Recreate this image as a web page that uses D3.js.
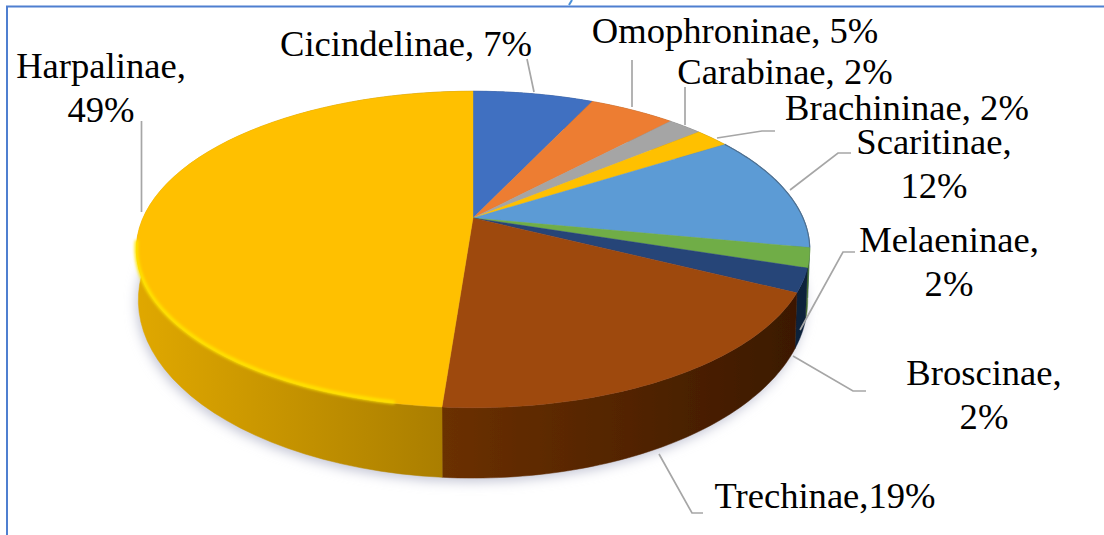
<!DOCTYPE html>
<html>
<head>
<meta charset="utf-8">
<script src="https://cdn.jsdelivr.net/npm/d3@7"></script>
<style>
    html, body { margin: 0; padding: 0; background: #fff; overflow: hidden; }
    text { font-family: "Liberation Serif", serif; font-size: 36.6px; fill: #000; }
</style>
</head>
<body>
<div id="chart"></div>
<script>
// Chart values
const categories = ['Cicindelinae', 'Omophroninae', 'Carabinae', 'Brachininae', 'Scaritinae', 'Melaeninae', 'Broscinae', 'Trechinae', 'Harpalinae'];
const shares = [7, 5, 2, 2, 12, 2, 2.4, 18.8, 48.8];
const percentLabels = ['7%', '5%', '2%', '2%', '12%', '2%', '2%', '19%', '49%'];
const topColors = ['#3f6fc1', '#ed7d31', '#a5a5a5', '#ffc000', '#5b9bd5', '#70ad47', '#264478', '#9e480e', '#ffc000'];
const wallLeft = ['#2a4a80', '#9e5320', '#6e6e6e', '#aa8000', '#3d6890', '#4a7330', '#1a2f52', '#6b3000', '#e0a800'];
const wallRight = ['#2a4a80', '#9e5320', '#6e6e6e', '#aa8000', '#3d6890', '#4a7330', '#10203a', '#3a1800', '#aa7e00'];

// Label placement: text lines and leader lines
const labelLayout = [
    { lines: ['Cicindelinae, 7%'], x: 406, y: 56, leader: [[527, 59], [534, 92]] },
    { lines: ['Omophroninae, 5%'], x: 735, y: 43, leader: [[632, 60], [632, 107]] },
    { lines: ['Carabinae, 2%'], x: 785, y: 84, leader: [[685, 87], [685, 125]] },
    { lines: ['Brachininae, 2%'], x: 907, y: 120, leader: [[717, 138], [762, 131], [775, 131]] },
    { lines: ['Scaritinae,', '12%'], x: 934, y: 154, leader: [[790, 190], [838, 153], [851, 153]] },
    { lines: ['Melaeninae,', '2%'], x: 949, y: 252, leader: [[800, 330], [843, 252], [855, 252]] },
    { lines: ['Broscinae,', '2%'], x: 984, y: 385, leader: [[793, 356], [853, 391], [866, 391]] },
    { lines: ['Trechinae,19%'], x: 825, y: 508, leader: [[659, 454], [692, 513], [703, 513]] },
    { lines: ['Harpalinae,', '49%'], x: 101, y: 78, leader: [[141.5, 121], [141.5, 212]] }
];

const width = 1104;
const height = 535;

// Tilted disc: top and bottom faces are the same circle seen in perspective
const tilt = 0.199;
const topFace = { cx: 473, cy: 218, rx: 330, ry: 152 };
const bottomFace = { cx: 473, cy: 264.6, rx: 328, ry: 171 };

const project = (face, angle) => {
    const w = 1 + tilt * Math.cos(angle);
    return [
        face.cx + face.rx * Math.sin(angle) / w,
        face.cy - face.ry * Math.cos(angle) / w
    ];
};

const edge = (face, start, end) => d3.range(0, 61).map(i => project(face, start + (end - start) * i / 60));

const svg = d3.select('#chart')
    .append('svg')
    .attr('width', width)
    .attr('height', height);

const defs = svg.append('defs');

const blur = defs.append('filter')
    .attr('id', 'shadow-blur')
    .attr('x', '-10%').attr('y', '-10%')
    .attr('width', '120%').attr('height', '125%');
blur.append('feGaussianBlur').attr('stdDeviation', 6);

const soft = defs.append('filter')
    .attr('id', 'soft')
    .attr('x', '-5%').attr('y', '-5%')
    .attr('width', '110%').attr('height', '110%');
soft.append('feGaussianBlur').attr('stdDeviation', 1.6);

const slightBlur = defs.append('filter').attr('id', 'slight');
slightBlur.append('feGaussianBlur').attr('stdDeviation', 0.7);

// Frame
svg.append('path')
    .attr('d', `M7,535V6.5H${width}`)
    .attr('fill', 'none')
    .attr('stroke', '#4f7fd0')
    .attr('stroke-width', 2);

// Small clipped mark above the frame
svg.append('path')
    .attr('d', 'M569,5L572,0')
    .attr('fill', 'none')
    .attr('stroke', '#4a90d9')
    .attr('stroke-width', 2);

const pie = d3.pie().sort(null).value(d => d);
const arcs = pie(shares);
const line = d3.line();

// Soft shadow under the disc
svg.append('path')
    .attr('d', line(edge(bottomFace, 0, 2 * Math.PI)) + 'Z')
    .attr('transform', 'translate(-2,4)')
    .attr('fill', '#c4c6d6')
    .attr('filter', 'url(#shadow-blur)');

// Walls, shaded from left to right
const walls = svg.append('g').attr('filter', 'url(#slight)');
arcs.forEach((a, i) => {
    const grad = defs.append('linearGradient')
        .attr('id', `wall-${i}`)
        .attr('gradientUnits', 'userSpaceOnUse')
        .attr('x1', i === 8 ? 135 : 443).attr('x2', i === 8 ? 443 : 808)
        .attr('y1', 0).attr('y2', 0);
    grad.append('stop').attr('offset', 0).attr('stop-color', wallLeft[i]);
    grad.append('stop').attr('offset', 1).attr('stop-color', wallRight[i]);

    const outline = edge(topFace, a.startAngle, a.endAngle)
        .concat(edge(bottomFace, a.startAngle, a.endAngle).reverse());
    walls.append('path')
        .attr('d', line(outline) + 'Z')
        .attr('fill', `url(#wall-${i})`)
        .attr('stroke', `url(#wall-${i})`)
        .attr('stroke-width', 0.5);
});

// Top face
const slices = svg.append('g').attr('filter', 'url(#slight)');
arcs.forEach((a, i) => {
    const outline = [[topFace.cx, topFace.cy]]
        .concat(edge(topFace, a.startAngle, a.endAngle));
    slices.append('path')
        .attr('d', line(outline) + 'Z')
        .attr('fill', topColors[i])
        .attr('stroke', topColors[i])
        .attr('stroke-width', 0.4);
});

// Darker rim along the back right of the top face
const scaritinae = arcs[4];
svg.append('path')
    .attr('d', line(edge(topFace, scaritinae.startAngle, scaritinae.endAngle)))
    .attr('fill', 'none')
    .attr('stroke', '#4f7090')
    .attr('stroke-width', 1.2)
    .attr('filter', 'url(#slight)');

// Bright bevel along the front of the Harpalinae rim
const harpalinae = arcs[8];
svg.append('path')
    .attr('d', line(edge(topFace, harpalinae.startAngle + 0.12, 1.45 * Math.PI)))
    .attr('transform', 'translate(0,-1)')
    .attr('fill', 'none')
    .attr('stroke', '#ffe600')
    .attr('stroke-width', 3.5)
    .attr('stroke-linecap', 'round')
    .attr('filter', 'url(#soft)');

// Leader lines
svg.append('g')
    .selectAll('path')
    .data(labelLayout)
    .enter()
    .append('path')
    .attr('d', d => line(d.leader))
    .attr('fill', 'none')
    .attr('stroke', '#a6a6a6')
    .attr('stroke-width', 1.7);

// Labels
const labels = svg.append('g')
    .selectAll('text')
    .data(labelLayout)
    .enter()
    .append('text')
    .attr('text-anchor', 'middle')
    .attr('y', d => d.y);

labels.selectAll('tspan')
    .data(d => d.lines)
    .enter()
    .append('tspan')
    .attr('x', function() { return d3.select(this.parentNode).datum().x; })
    .attr('dy', (d, i) => i === 0 ? 0 : 43.5)
    .text(d => d);
</script>
</body>
</html>
